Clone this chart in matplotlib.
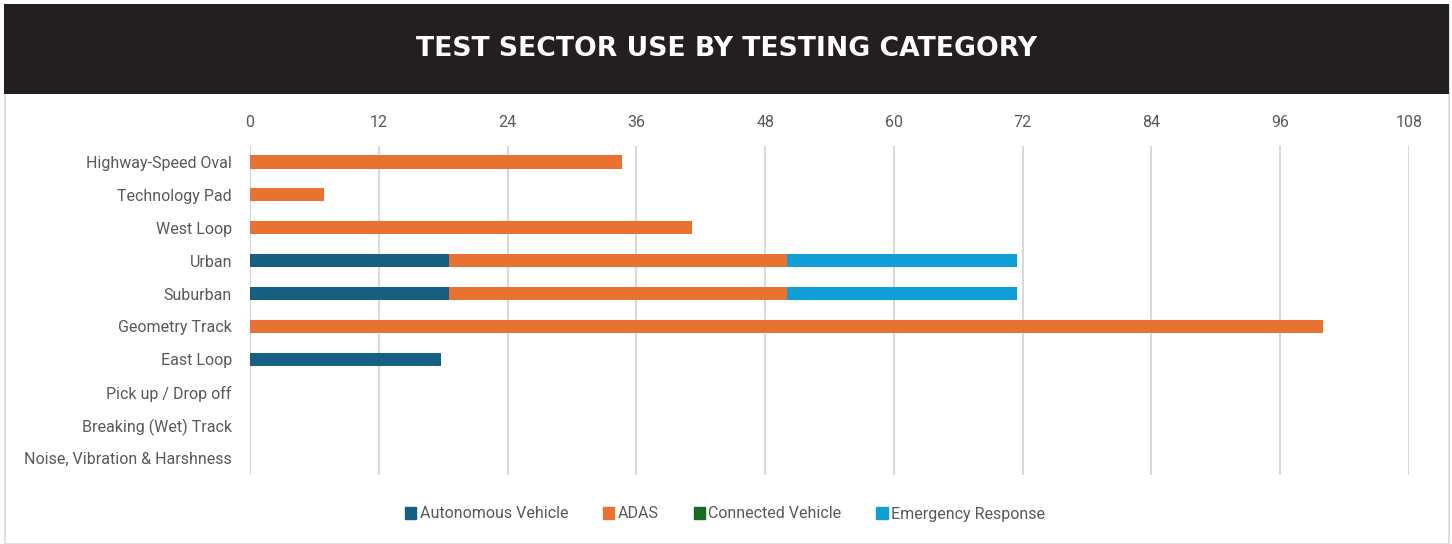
import numpy as np
import matplotlib.pyplot as plt
from matplotlib.patches import Rectangle

# data
sectors = ['Highway-Speed Oval', 'Technology Pad', 'West Loop', 'Urban', 'Suburban',
           'Geometry Track', 'East Loop', 'Pick up / Drop off', 'Breaking (Wet) Track',
           'Noise, Vibration & Harshness']
autonomous = [0, 0, 0, 18.5, 18.5, 0, 17.8, 0, 0, 0]
adas = [34.7, 6.9, 41.2, 31.5, 31.5, 100, 0, 0, 0, 0]
connected = [0, 0, 0, 0, 0, 0, 0, 0, 0, 0]
emergency = [0, 0, 0, 21.5, 21.5, 0, 0, 0, 0, 0]
series_names = ['Autonomous Vehicle', 'ADAS', 'Connected Vehicle', 'Emergency Response']
colors = ['#156082', '#E97132', '#196B24', '#0F9ED5']
xticks = [0, 12, 24, 36, 48, 60, 72, 84, 96, 108]

narrow = ['Roboto', 'DejaVu Sans']
txtcol = '#595959'

W, H = 1452, 544
fig = plt.figure(figsize=(W/100, H/100), dpi=100)

# frame and black header
fig.patches.append(Rectangle((4.5/W, 0.5/H), 1444/W, 1-5/H, transform=fig.transFigure,
                             facecolor='white', edgecolor='#D9D9D9', lw=1.2, zorder=-2))
fig.patches.append(Rectangle((4/W, 1-94/H), 1445/W, 90/H, transform=fig.transFigure,
                             facecolor='#231F20', edgecolor='none', zorder=-1))
fig.text(726/W, 1-49/H, 'TEST SECTOR USE BY TESTING CATEGORY', color='white',
         fontsize=19.2, fontweight='bold', family='DejaVu Sans', ha='center', va='center')

ax = fig.add_axes([250/W, 1-474.5/H, 1159/W, 329/H])
ax.set_zorder(2)
ax.patch.set_alpha(0)
y = np.arange(len(sectors))
series = [autonomous, adas, connected, emergency]
left = np.zeros(len(sectors))
for vals, name, c in zip(series, series_names, colors):
    vals = np.array(vals, dtype=float)
    ax.barh(y, vals, left=left, height=0.4, color=c, label=name,
            linewidth=0, zorder=3)
    left += vals

ax.set_xlim(0, 108)
ax.set_ylim(len(sectors)-0.5, -0.5)
ax.set_xticks(xticks)
ax.set_yticks(y)
ax.set_yticklabels(sectors, family=narrow, fontsize=11.5, color=txtcol)
ax.xaxis.tick_top()
for t in ax.get_xticklabels():
    t.set_family(narrow)
    t.set_fontsize(11.5)
    t.set_color(txtcol)
ax.tick_params(axis='x', length=0, pad=11)
ax.tick_params(axis='y', length=0, pad=13)
ax.grid(axis='x', color='#D9D9D9', lw=1.5, zorder=0)
for s in ax.spines.values():
    s.set_visible(False)

handles = [Rectangle((0, 0), 1, 1, color=c) for c in colors]
leg = fig.legend(handles, series_names, loc='center', bbox_to_anchor=(725/W, 1-514/H),
                 ncol=4, frameon=False, handlelength=0.7, handleheight=0.7,
                 handletextpad=0.2, columnspacing=2.2,
                 prop={'family': narrow, 'size': 11.5})
for t in leg.get_texts():
    t.set_color(txtcol)

fig.savefig('out.png', dpi=100)
